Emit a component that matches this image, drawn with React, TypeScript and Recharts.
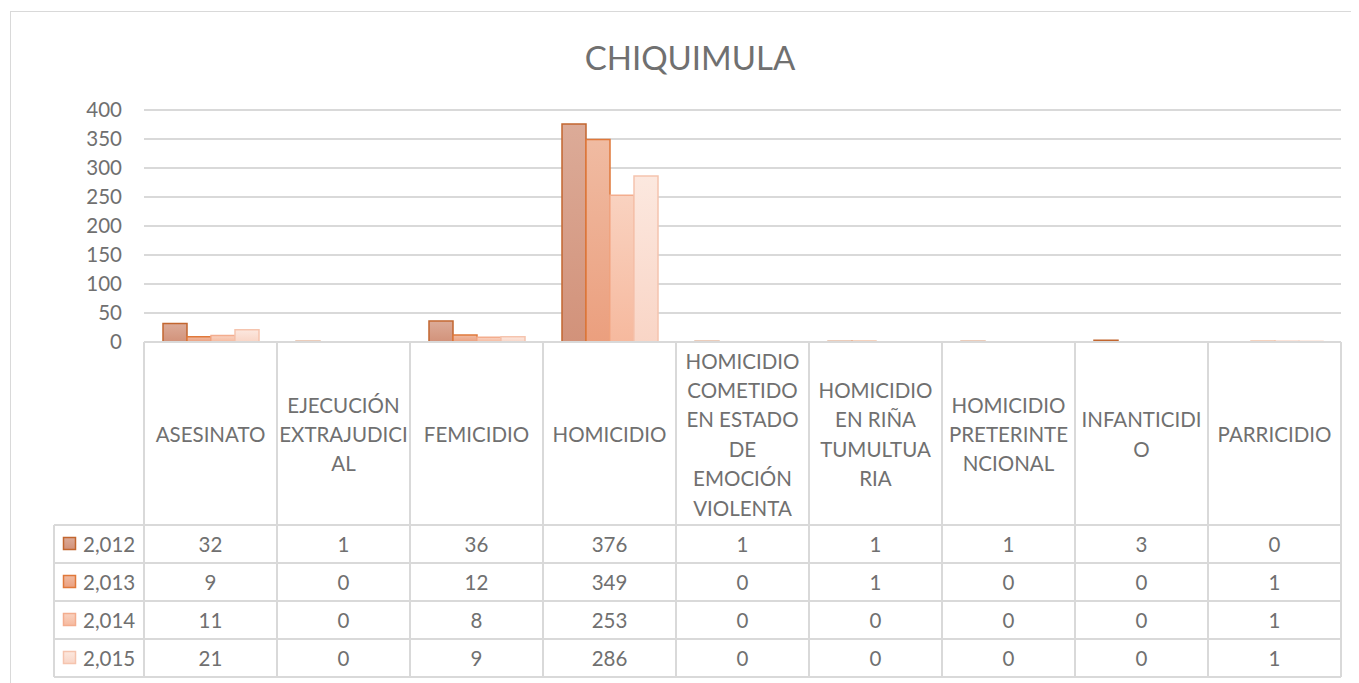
import { BarChart, Bar, XAxis, YAxis, CartesianGrid, Customized } from 'recharts';

const categories = [
  'ASESINATO',
  'EJECUCIÓN EXTRAJUDICIAL',
  'FEMICIDIO',
  'HOMICIDIO',
  'HOMICIDIO COMETIDO EN ESTADO DE EMOCIÓN VIOLENTA',
  'HOMICIDIO EN RIÑA TUMULTUARIA',
  'HOMICIDIO PRETERINTENCIONAL',
  'INFANTICIDIO',
  'PARRICIDIO',
];

// wrapped the way the original cell shows them
const categoryLines = [
  ['ASESINATO'],
  ['EJECUCIÓN', 'EXTRAJUDICI', 'AL'],
  ['FEMICIDIO'],
  ['HOMICIDIO'],
  ['HOMICIDIO', 'COMETIDO', 'EN ESTADO', 'DE', 'EMOCIÓN', 'VIOLENTA'],
  ['HOMICIDIO', 'EN RIÑA', 'TUMULTUA', 'RIA'],
  ['HOMICIDIO', 'PRETERINTE', 'NCIONAL'],
  ['INFANTICIDI', 'O'],
  ['PARRICIDIO'],
];

const seriesNames = ['2,012', '2,013', '2,014', '2,015'];
const y2012 = [32, 1, 36, 376, 1, 1, 1, 3, 0];
const y2013 = [9, 0, 12, 349, 0, 1, 0, 0, 1];
const y2014 = [11, 0, 8, 253, 0, 0, 0, 0, 1];
const y2015 = [21, 0, 9, 286, 0, 0, 0, 0, 1];
const yTicks = [0, 50, 100, 150, 200, 250, 300, 350, 400];

const seriesValues = [y2012, y2013, y2014, y2015];
const keys = ['s2012', 's2013', 's2014', 's2015'];

const data = categories.map((name, i) => ({
  name,
  s2012: y2012[i],
  s2013: y2013[i],
  s2014: y2014[i],
  s2015: y2015[i],
}));

const W = 1345;
const H = 675;
const LEFT = 136;
const RIGHT_M = 12;
const AXIS_Y = 334;
const BAND = (W - RIGHT_M - LEFT) / categories.length;
const ROW_TOP = 517;
const ROW_H = 38;
const LEGEND_X = 46;
const FONT = 'Lato, "Open Sans", sans-serif';
const FS = 20.5;
const TEXT = '#707070';
const GRID = '#d9d9d9';

const styles = [
  { top: '#dcab98', bottom: '#d2927a', stroke: '#c2662f' },
  { top: '#f0bba2', bottom: '#eb9f7e', stroke: '#e0783a' },
  { top: '#f9d2c0', bottom: '#f6b99e', stroke: '#f3ad8e' },
  { top: '#fce8df', bottom: '#f9d5c6', stroke: '#f5c4ae' },
];

function CategoryTick(props: any) {
  const { x, index } = props;
  const lines = categoryLines[index] || [];
  const lh = 29.4;
  const cy = AXIS_Y + 92;
  const startY = cy - ((lines.length - 1) * lh) / 2;
  const left = x - BAND / 2;
  return (
    <g>
      <line x1={left} x2={left} y1={AXIS_Y} y2={ROW_TOP + ROW_H * 4} stroke={GRID} strokeWidth={2} />
      {index === categories.length - 1 && (
        <line x1={x + BAND / 2} x2={x + BAND / 2} y1={AXIS_Y} y2={ROW_TOP + ROW_H * 4} stroke={GRID} strokeWidth={2} />
      )}
      {lines.map((t, j) => (
        <text key={j} x={x} y={startY + j * lh} textAnchor="middle" dominantBaseline="central" fontSize={FS} fill={TEXT} fontFamily={FONT}>
          {t}
        </text>
      ))}
      {seriesValues.map((vals, r) => (
        <text key={'v' + r} x={x} y={ROW_TOP + ROW_H * r + ROW_H / 2} textAnchor="middle" dominantBaseline="central" fontSize={FS} fill={TEXT} fontFamily={FONT}>
          {vals[index]}
        </text>
      ))}
    </g>
  );
}

function TableFrame() {
  return (
    <g>
      <rect x={2.5} y={3.5} width={W - 4} height={H + 10} fill="none" stroke={GRID} strokeWidth={1} />
      <text x={682} y={49} textAnchor="middle" dominantBaseline="central" fontSize={33} fill={TEXT} fontFamily={FONT}>
        CHIQUIMULA
      </text>
      {[0, 1, 2, 3, 4].map((r) => (
        <line key={r} x1={LEGEND_X} x2={W - RIGHT_M} y1={ROW_TOP + ROW_H * r} y2={ROW_TOP + ROW_H * r} stroke={GRID} strokeWidth={2} />
      ))}
      <line x1={LEGEND_X} x2={LEGEND_X} y1={ROW_TOP} y2={ROW_TOP + ROW_H * 4} stroke={GRID} strokeWidth={2} />
      {seriesNames.map((n, r) => {
        const cy = ROW_TOP + ROW_H * r + ROW_H / 2;
        return (
          <g key={n}>
            <rect x={55.5} y={cy - 6.5} width={12} height={12} fill={`url(#g${r})`} stroke={styles[r].stroke} strokeWidth={1.5} />
            <text x={75} y={cy} dominantBaseline="central" fontSize={FS} fill={TEXT} fontFamily={FONT}>
              {n}
            </text>
          </g>
        );
      })}
    </g>
  );
}

export default function App() {
  return (
    <BarChart
      width={W}
      height={H}
      data={data}
      margin={{ top: 102, right: RIGHT_M, left: 0, bottom: 158 }}
      barCategoryGap={19}
      barGap={0}
    >
      <defs>
        {styles.map((s, i) => (
          <linearGradient key={i} id={`g${i}`} x1="0" y1="0" x2="0" y2="1">
            <stop offset="0%" stopColor={s.top} />
            <stop offset="100%" stopColor={s.bottom} />
          </linearGradient>
        ))}
      </defs>
      <CartesianGrid vertical={false} stroke={GRID} strokeWidth={2} />
      <XAxis
        dataKey="name"
        height={183}
        interval={0}
        axisLine={{ stroke: GRID, strokeWidth: 2 }}
        tickLine={false}
        tick={<CategoryTick />}
      />
      <YAxis
        width={LEFT}
        domain={[0, 400]}
        ticks={yTicks}
        axisLine={false}
        tickLine={false}
        tickSize={0}
        tickMargin={22}
        tick={{ fontSize: FS, fill: TEXT, fontFamily: FONT }}
      />
      {keys.map((k, i) => (
        <Bar key={k} dataKey={k} name={seriesNames[i]} fill={`url(#g${i})`} stroke={styles[i].stroke} strokeWidth={1.5} isAnimationActive={false} />
      ))}
      <Customized component={<TableFrame />} />
    </BarChart>
  );
}
